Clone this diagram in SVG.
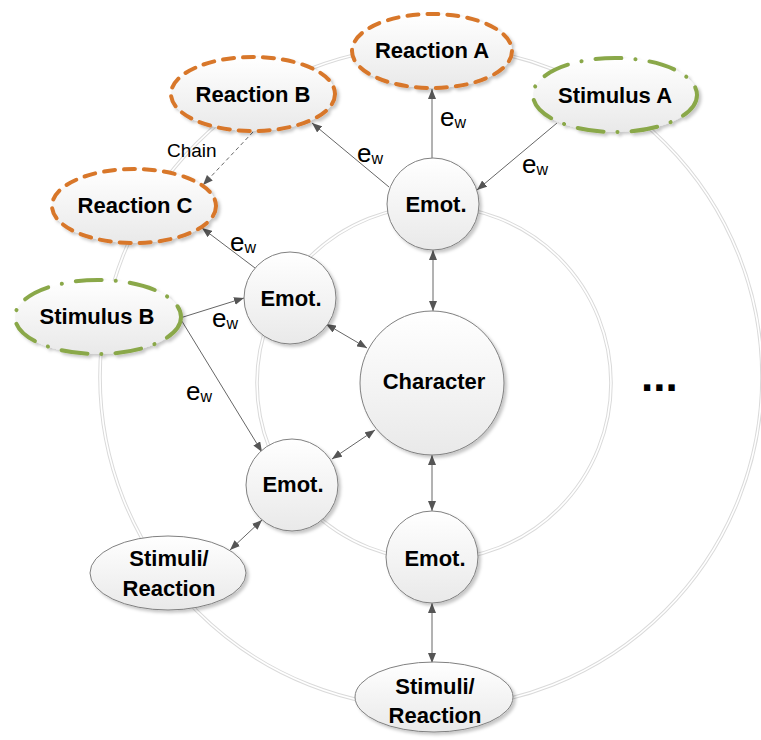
<svg xmlns="http://www.w3.org/2000/svg" width="761" height="740" viewBox="0 0 761 740">
  <defs>
    <linearGradient id="nodeFill" x1="0" y1="0" x2="0" y2="1">
      <stop offset="0" stop-color="#ffffff"/>
      <stop offset="1" stop-color="#e9e9e9"/>
    </linearGradient>
    <filter id="shadow" x="-20%" y="-20%" width="140%" height="140%">
      <feDropShadow dx="2.5" dy="2.5" stdDeviation="1.5" flood-color="#000" flood-opacity="0.22"/>
    </filter>
    <marker id="arrow" viewBox="0 0 10 8" refX="10" refY="4" markerWidth="10" markerHeight="8" markerUnits="userSpaceOnUse" orient="auto-start-reverse">
      <path d="M0,0 L10,4 L0,8 z" fill="#555"/>
    </marker>
  </defs>
  <style>
    .ring { fill: none; stroke: #dadada; stroke-width: 3.6; }
    .ringGap { fill: none; stroke: #ffffff; stroke-width: 1.6; }
    .plain { fill: url(#nodeFill); stroke: #808080; stroke-width: 1; filter: url(#shadow); }
    .reaction { fill: url(#nodeFill); stroke: #d8772a; stroke-width: 4; stroke-dasharray: 11 9; stroke-linecap: round; filter: url(#shadow); }
    .stimulus { fill: url(#nodeFill); stroke: #8aa84a; stroke-width: 4; stroke-dasharray: 26 14 0.1 14; stroke-linecap: round; filter: url(#shadow); }
    .label { font-family: "Liberation Sans", Arial, sans-serif; font-weight: bold; font-size: 22px; fill: #000; text-anchor: middle; }
    .edge { stroke: #666; stroke-width: 1; fill: none; }
    .dashed { stroke-dasharray: 4 3; }
    .ew { font-family: "Liberation Sans", Arial, sans-serif; font-size: 26px; fill: #000; }
    .ew tspan { font-size: 16px; }
    .chain { font-family: "Liberation Sans", Arial, sans-serif; font-size: 19px; fill: #000; }
    .more { font-family: "Liberation Sans", Arial, sans-serif; font-weight: bold; font-size: 44px; fill: #000; }
  </style>

  <!-- concentric orbit rings (double lines) -->
  <g id="rings">
    <circle class="ring" cx="431" cy="377" r="331"/>
    <circle class="ringGap" cx="431" cy="377" r="331"/>
    <circle class="ring" cx="434" cy="383" r="177"/>
    <circle class="ringGap" cx="434" cy="383" r="177"/>
  </g>

  <!-- connectors -->
  <g id="connectors">
    <line class="edge" x1="432" y1="158" x2="432" y2="89" marker-end="url(#arrow)"/>
    <line class="edge" x1="389" y1="187" x2="312" y2="123" marker-end="url(#arrow)"/>
    <line class="edge" x1="557" y1="123" x2="477" y2="190" marker-end="url(#arrow)"/>
    <line class="edge dashed" x1="253" y1="132" x2="203" y2="185" marker-end="url(#arrow)"/>
    <line class="edge" x1="255" y1="268" x2="202" y2="228" marker-end="url(#arrow)"/>
    <line class="edge" x1="180" y1="318" x2="244" y2="298" marker-end="url(#arrow)"/>
    <line class="edge" x1="180" y1="318" x2="262" y2="452" marker-end="url(#arrow)"/>
    <line class="edge" x1="433" y1="250" x2="433" y2="311" marker-start="url(#arrow)" marker-end="url(#arrow)"/>
    <line class="edge" x1="326" y1="324" x2="367" y2="348" marker-start="url(#arrow)" marker-end="url(#arrow)"/>
    <line class="edge" x1="332" y1="459" x2="375" y2="430" marker-start="url(#arrow)" marker-end="url(#arrow)"/>
    <line class="edge" x1="432" y1="455" x2="432" y2="511" marker-start="url(#arrow)" marker-end="url(#arrow)"/>
    <line class="edge" x1="262" y1="520" x2="230" y2="550" marker-start="url(#arrow)" marker-end="url(#arrow)"/>
    <line class="edge" x1="432" y1="603" x2="432" y2="663" marker-start="url(#arrow)" marker-end="url(#arrow)"/>

    <text class="ew" x="440" y="126">e<tspan dy="2">w</tspan></text>
    <text class="ew" x="357" y="162">e<tspan dy="2">w</tspan></text>
    <text class="ew" x="522" y="173">e<tspan dy="2">w</tspan></text>
    <text class="ew" x="230" y="251">e<tspan dy="2">w</tspan></text>
    <text class="ew" x="212" y="327">e<tspan dy="2">w</tspan></text>
    <text class="ew" x="186" y="400">e<tspan dy="2">w</tspan></text>
    <text class="chain" x="167" y="157">Chain</text>
  </g>

  <!-- nodes -->
  <g id="reaction-a">
    <ellipse class="reaction" cx="432" cy="51" rx="80" ry="37"/>
    <text class="label" x="432" y="58">Reaction A</text>
  </g>
  <g id="reaction-b">
    <ellipse class="reaction" cx="253" cy="94" rx="82" ry="37"/>
    <text class="label" x="253" y="102">Reaction B</text>
  </g>
  <g id="reaction-c">
    <ellipse class="reaction" cx="134" cy="206" rx="82" ry="37"/>
    <text class="label" x="135" y="213">Reaction C</text>
  </g>
  <g id="stimulus-a">
    <ellipse class="stimulus" cx="615" cy="95" rx="82" ry="37"/>
    <text class="label" x="615" y="103">Stimulus A</text>
  </g>
  <g id="stimulus-b">
    <ellipse class="stimulus" cx="98" cy="317" rx="83" ry="37"/>
    <text class="label" x="97" y="324">Stimulus B</text>
  </g>
  <g id="emot-top">
    <circle class="plain" cx="433" cy="204" r="46"/>
    <text class="label" x="436" y="212">Emot.</text>
  </g>
  <g id="emot-left">
    <circle class="plain" cx="290" cy="298" r="46"/>
    <text class="label" x="291" y="306">Emot.</text>
  </g>
  <g id="character">
    <circle class="plain" cx="432" cy="383" r="72"/>
    <text class="label" x="434" y="389">Character</text>
  </g>
  <g id="emot-lower-left">
    <circle class="plain" cx="292" cy="485" r="46"/>
    <text class="label" x="293" y="492">Emot.</text>
  </g>
  <g id="emot-bottom">
    <circle class="plain" cx="432" cy="557" r="46"/>
    <text class="label" x="435" y="566">Emot.</text>
  </g>
  <g id="stimuli-reaction-left">
    <ellipse class="plain" cx="168" cy="573" rx="78" ry="37"/>
    <text class="label" x="169" y="566">Stimuli/</text>
    <text class="label" x="169" y="596">Reaction</text>
  </g>
  <g id="stimuli-reaction-bottom">
    <ellipse class="plain" cx="434" cy="697" rx="79" ry="35"/>
    <text class="label" x="435" y="694">Stimuli/</text>
    <text class="label" x="435" y="723">Reaction</text>
  </g>

  <text class="more" x="641" y="391">...</text>
</svg>
